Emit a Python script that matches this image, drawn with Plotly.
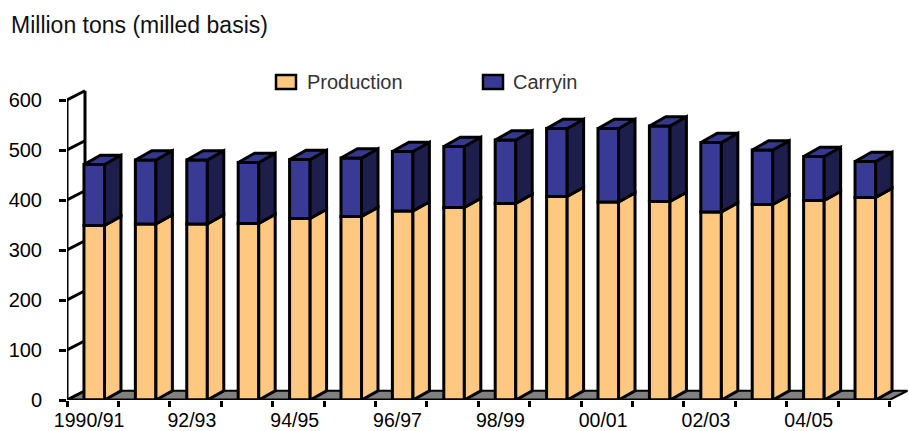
import plotly.graph_objects as go

# Marketing years and world rice supply components (million tons, milled basis)
years = ["1990/91", "91/92", "92/93", "93/94", "94/95", "95/96", "96/97", "97/98",
         "98/99", "99/00", "00/01", "01/02", "02/03", "03/04", "04/05", "05/06"]
production = [349, 352, 352, 353, 363, 367, 378, 385, 393, 407, 396, 397, 376, 391, 399, 405]
carryin = [122, 128, 128, 122, 118, 117, 119, 122, 127, 136, 147, 151, 139, 109, 88, 72]
y_ticks = [0, 100, 200, 300, 400, 500, 600]

PROD_FRONT = "#FFC880"
PROD_SIDE = "#FFC880"
CARRY_FRONT = "#383A96"
CARRY_SIDE = "#1E1E4C"
CARRY_TOP = "#36388E"
FLOOR = "#808080"
EDGE = "black"
LW = 3

W = 0.40        # front face width (category units)
BDX = 0.32      # bar depth, horizontal
WDX = 0.35      # wall/floor depth, horizontal
DY = 18.5       # depth, vertical (value units)
X0 = -0.53      # left edge of the category axis
XN = X0 + len(years)

xs = list(range(len(years)))
totals = [p + c for p, c in zip(production, carryin)]

fig = go.Figure()

# front faces
fig.add_trace(go.Bar(x=xs, y=production, width=W, marker=dict(color=PROD_FRONT, line=dict(color=EDGE, width=LW)),
                     name="Production", showlegend=False, hoverinfo="skip"))
fig.add_trace(go.Bar(x=xs, y=carryin, base=production, width=W,
                     marker=dict(color=CARRY_FRONT, line=dict(color=EDGE, width=LW)),
                     name="Carryin", showlegend=False, hoverinfo="skip"))


def poly_trace(polys, color):
    px, py = [], []
    for pts in polys:
        for a, b in pts + [pts[0]]:
            px.append(a)
            py.append(b)
        px.append(None)
        py.append(None)
    return go.Scatter(x=px, y=py, mode="lines", fill="toself", fillcolor=color,
                      line=dict(color=EDGE, width=LW), showlegend=False, hoverinfo="skip")


prod_sides, carry_sides, carry_tops = [], [], []
for x, p, t in zip(xs, production, totals):
    r = x + W / 2
    l = x - W / 2
    prod_sides.append([(r, 0), (r + BDX, DY), (r + BDX, p + DY), (r, p)])
    carry_sides.append([(r, p), (r + BDX, p + DY), (r + BDX, t + DY), (r, t)])
    carry_tops.append([(l, t), (l + BDX, t + DY), (r + BDX, t + DY), (r, t)])

fig.add_trace(poly_trace(prod_sides, PROD_SIDE))
fig.add_trace(poly_trace(carry_sides, CARRY_SIDE))
fig.add_trace(poly_trace(carry_tops, CARRY_TOP))

shapes = []
# floor
shapes.append(dict(type="path", xref="x", yref="y", layer="below",
                   path=f"M {X0},0 L {XN},0 L {XN + WDX},{DY} L {X0 + WDX},{DY} Z",
                   fillcolor=FLOOR, line=dict(color=EDGE, width=2)))
shapes.append(dict(type="line", xref="x", yref="y", x0=X0, x1=XN, y0=0, y1=0,
                   line=dict(color=EDGE, width=3)))
# left wall: front edge, back edge and slanted tick lines
shapes.append(dict(type="line", xref="x", yref="y", x0=X0, x1=X0, y0=0, y1=y_ticks[-1],
                   line=dict(color=EDGE, width=3)))
shapes.append(dict(type="line", xref="x", yref="y", x0=X0 + WDX, x1=X0 + WDX, y0=DY, y1=y_ticks[-1] + DY,
                   line=dict(color=EDGE, width=LW), layer="below"))
for v in y_ticks:
    shapes.append(dict(type="line", xref="x", yref="y", x0=X0, x1=X0 + WDX, y0=v, y1=v + DY,
                       line=dict(color=EDGE, width=LW), layer="below"))

# legend swatches
PLOT_W, PLOT_H, ML, MT = 842, 325, 67, 75


def px_x(v):
    return (v - ML) / PLOT_W


def px_y(v):
    return (MT + PLOT_H - v) / PLOT_H


for x0, col in [(276, PROD_FRONT), (483, CARRY_FRONT)]:
    shapes.append(dict(type="rect", xref="paper", yref="paper",
                       x0=px_x(x0), x1=px_x(x0 + 20), y0=px_y(89), y1=px_y(75),
                       fillcolor=col, line=dict(color=EDGE, width=2.5)))

annotations = [
    dict(text="Million tons (milled basis)", xref="paper", yref="paper",
         x=px_x(9), y=px_y(25), xanchor="left", yanchor="middle", showarrow=False,
         font=dict(size=23, color="#111111")),
    dict(text="Production", xref="paper", yref="paper", x=px_x(305), y=px_y(82),
         xanchor="left", yanchor="middle", showarrow=False, font=dict(size=20, color="#333333")),
    dict(text="Carryin", xref="paper", yref="paper", x=px_x(511), y=px_y(82),
         xanchor="left", yanchor="middle", showarrow=False, font=dict(size=20, color="#333333")),
]

label_idx = list(range(0, len(years), 2))

fig.update_layout(
    width=909, height=431,
    margin=dict(l=ML, r=0, t=MT, b=31),
    paper_bgcolor="white", plot_bgcolor="white",
    barmode="overlay",
    font=dict(family="Liberation Sans, Arial, sans-serif", color="black"),
    shapes=shapes, annotations=annotations,
    xaxis=dict(range=[X0, X0 + 16.38], showgrid=False, zeroline=False, showline=False,
               tickmode="array", tickvals=[i - 0.1 for i in label_idx],
               ticktext=[years[i] for i in label_idx], ticks="", ticklabelstandoff=6,
               tickfont=dict(size=19.5, color="black"),
               minor=dict(tickmode="array", tickvals=[X0 + k for k in range(len(years) + 1)],
                          ticks="outside", ticklen=6, tickwidth=3, tickcolor="black", showgrid=False)),
    yaxis=dict(range=[0, 650], showgrid=False, zeroline=False, showline=False,
               tickmode="array", tickvals=y_ticks, ticks="outside", ticklen=7, tickwidth=3,
               tickcolor="black", ticklabelstandoff=13, tickfont=dict(size=20, color="black")),
)

fig.write_html("out.html")
